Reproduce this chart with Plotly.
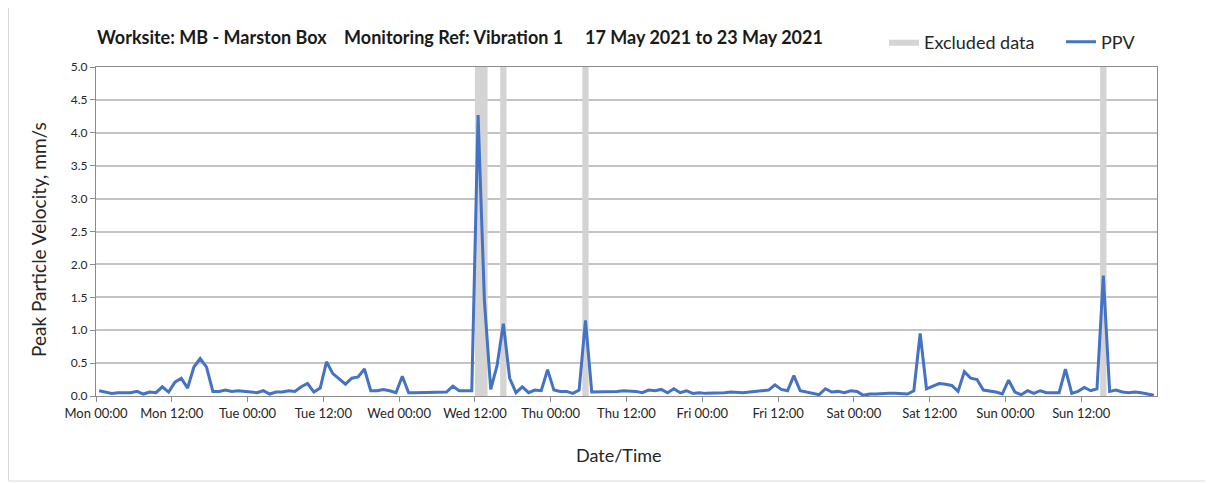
import plotly.graph_objects as go
import pandas as pd

# Hourly PPV readings (mm/s), one list per day, 17-23 May 2021
mon = [0.08, 0.06, 0.04, 0.05, 0.05, 0.05, 0.07, 0.03, 0.06, 0.05, 0.14, 0.06,
       0.21, 0.27, 0.12, 0.44, 0.57, 0.44, 0.07, 0.07, 0.09, 0.07, 0.08, 0.07]
tue = [0.07, 0.05, 0.08, 0.03, 0.06, 0.06, 0.08, 0.07, 0.14, 0.19, 0.06, 0.12,
       0.52, 0.34, 0.26, 0.18, 0.27, 0.29, 0.41, 0.08, 0.08, 0.10, 0.08, 0.05]
wed = [0.30, 0.05, 0.05, 0.05, 0.06, 0.06, 0.06, 0.06, 0.15, 0.08, 0.08, 0.08,
       4.27, 1.45, 0.10, 0.46, 1.10, 0.27, 0.05, 0.14, 0.05, 0.09, 0.08, 0.40]
thu = [0.09, 0.07, 0.07, 0.04, 0.09, 1.15, 0.06, 0.06, 0.06, 0.07, 0.07, 0.08,
       0.08, 0.07, 0.05, 0.09, 0.08, 0.10, 0.05, 0.11, 0.05, 0.08, 0.04, 0.05]
fri = [0.04, 0.04, 0.04, 0.05, 0.06, 0.05, 0.05, 0.06, 0.07, 0.07, 0.09, 0.17,
       0.10, 0.08, 0.31, 0.08, 0.06, 0.04, 0.02, 0.11, 0.06, 0.07, 0.05, 0.08]
sat = [0.07, 0.01, 0.03, 0.03, 0.04, 0.04, 0.04, 0.04, 0.03, 0.08, 0.95, 0.11,
       0.145, 0.19, 0.18, 0.16, 0.07, 0.37, 0.27, 0.25, 0.09, 0.08, 0.06, 0.03]
sun = [0.24, 0.06, 0.02, 0.08, 0.04, 0.08, 0.05, 0.05, 0.05, 0.41, 0.04, 0.07,
       0.13, 0.08, 0.11, 1.83, 0.07, 0.09, 0.06, 0.05, 0.06, 0.05, 0.03, 0.01]

# Excluded data periods
excluded_start = ["2021-05-19 12:00", "2021-05-19 16:00", "2021-05-20 05:00", "2021-05-23 15:00"]
excluded_end = ["2021-05-19 14:00", "2021-05-19 17:00", "2021-05-20 06:00", "2021-05-23 16:00"]

ppv = mon + tue + wed + thu + fri + sat + sun
times = pd.date_range("2021-05-17 00:30", periods=len(ppv), freq="h")

x_start = pd.Timestamp("2021-05-17 00:00")
x_end = pd.Timestamp("2021-05-24 00:00")
y_top = 5.0

# labelled ticks every 12 h, none on the closing Monday
tick_times = pd.date_range(x_start, "2021-05-23 12:00", freq="12h")

FONT = "Lato"
# page has an 8px body margin, so the figure is a bit smaller than the window
OFF = 8
W, H = 1213 - OFF, 484 - OFF
ML, MT = 96 - OFF, 67 - OFF
PW = 1157 - 96
PH = 396 - 67
MR, MB = W - ML - PW, H - MT - PH


def px(xp):
    # page x pixel -> paper coordinate
    return (xp - OFF - ML) / PW


def py(yp):
    # page y pixel -> paper coordinate
    return 1 - (yp - OFF - MT) / PH


# build the excluded bands as one filled polygon trace
bx, by = [], []
for s, e in zip(excluded_start, excluded_end):
    bx += [s, e, e, s, s, None]
    by += [0, 0, y_top, y_top, 0, None]

fig = go.Figure()

fig.add_trace(go.Scatter(
    x=bx, y=by,
    mode='lines',
    fill='toself',
    fillcolor='#d4d4d4',
    line=dict(width=0, color='#d4d4d4'),
    name='Excluded data',
    hoverinfo='skip'
))

fig.add_trace(go.Scatter(
    x=times, y=ppv,
    mode='lines',
    name='PPV',
    line=dict(color='#4472C4', width=3)
))

fig.update_layout(
    width=W, height=H,
    margin=dict(l=ML, r=MR, t=MT, b=MB, autoexpand=False),
    paper_bgcolor='white',
    plot_bgcolor='white',
    font=dict(family=FONT, color='#262626'),
    title=dict(
        text="<b>Worksite: MB - Marston Box\u00a0\u00a0\u00a0 Monitoring Ref: Vibration 1"
             "\u00a0\u00a0\u00a0\u00a0 17 May 2021 to 23 May 2021</b>",
        x=(97 - OFF) / W, xanchor='left',
        y=1 - (38 - OFF) / H, yanchor='middle',
        pad=dict(l=0, r=0, t=0, b=0),
        font=dict(family=FONT, size=18, color='#1a1a1a')
    ),
    legend=dict(
        orientation='h',
        x=px(884), xanchor='left',
        y=py(42), yanchor='middle',
        font=dict(family=FONT, size=18, color='#262626'),
        bgcolor='rgba(0,0,0,0)',
        entrywidth=132, entrywidthmode='pixels',
        itemwidth=30,
        tracegroupgap=0
    ),
    showlegend=True,
    xaxis=dict(
        type='date',
        range=[x_start, x_end],
        tickmode='array',
        tickvals=tick_times,
        tickformat='%a %H:%M',
        ticks='outside', ticklen=5, tickcolor='#8c8c8c',
        showgrid=False,
        showline=True, linecolor='#8c8c8c', linewidth=1, mirror=True,
        tickfont=dict(family=FONT, size=13, color='#262626'),
        automargin=False,
        zeroline=False
    ),
    xaxis2=dict(
        type='date',
        overlaying='x',
        range=[x_start, x_end],
        tick0=x_start,
        dtick=24 * 3600 * 1000,
        showgrid=True, gridcolor='#dcdcdc', gridwidth=1.5,
        showticklabels=False, ticks='',
        showline=False, zeroline=False
    ),
    yaxis=dict(
        range=[0, y_top],
        dtick=0.5,
        tickformat='.1f',
        ticks='outside', ticklen=5, tickcolor='#8c8c8c',
        showgrid=True, gridcolor='#c4c4c4', gridwidth=1.5,
        showline=True, linecolor='#8c8c8c', linewidth=1, mirror=True,
        tickfont=dict(family=FONT, size=12, color='#262626'),
        automargin=False,
        zeroline=False
    ),
    hovermode='x unified'
)

# axis titles
fig.add_annotation(
    text='Date/Time', xref='paper', yref='paper',
    x=px(619), y=py(455),
    xanchor='center', yanchor='middle', showarrow=False,
    font=dict(family=FONT, size=18, color='#262626')
)
fig.add_annotation(
    text='Peak Particle Velocity, mm/s', xref='paper', yref='paper',
    x=px(38), y=py(240), textangle=-90,
    xanchor='center', yanchor='middle', showarrow=False,
    font=dict(family=FONT, size=19, color='#262626')
)

# light frame round the whole chart
fig.add_shape(
    type='rect', xref='paper', yref='paper',
    x0=px(8.5), x1=px(1208),
    y0=py(481), y1=py(-20),
    line=dict(color='#d9d9d9', width=1),
    layer='below'
)

fig.write_html("out.html")
